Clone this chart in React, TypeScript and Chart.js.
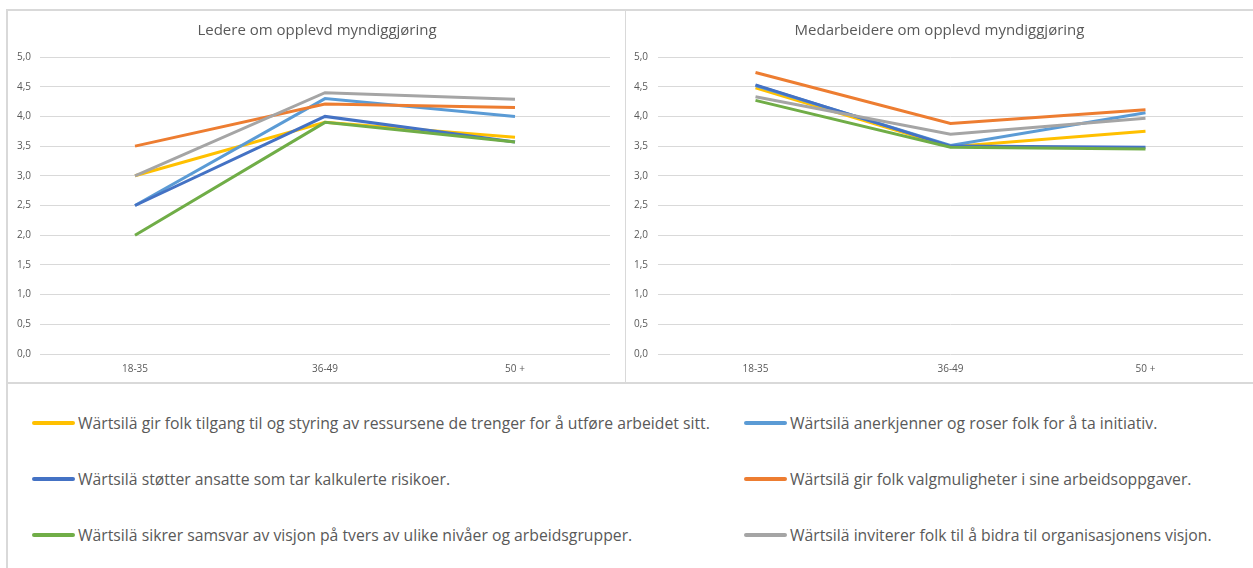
import React, { useEffect, useRef } from "react";
import { Chart, registerables } from "chart.js";

Chart.register(...registerables);

const categories = ["18-35", "36-49", "50 +"];

const seriesNames = [
  "Wärtsilä gir folk tilgang til og styring av ressursene de trenger for å utføre arbeidet sitt.",
  "Wärtsilä anerkjenner og roser folk for å ta initiativ.",
  "Wärtsilä støtter ansatte som tar kalkulerte risikoer.",
  "Wärtsilä gir folk valgmuligheter i sine arbeidsoppgaver.",
  "Wärtsilä sikrer samsvar av visjon på tvers av ulike nivåer og arbeidsgrupper.",
  "Wärtsilä inviterer folk til å bidra til organisasjonens visjon.",
];

const seriesColors = ["#FFC000", "#5B9BD5", "#4472C4", "#ED7D31", "#70AD47", "#A5A5A5"];

// Ledere
const lederTilgang = [3.0, 3.9, 3.65];
const lederAnerkjenner = [2.5, 4.3, 4.0];
const lederStotter = [2.5, 4.0, 3.57];
const lederValg = [3.5, 4.21, 4.15];
const lederSamsvar = [2.0, 3.9, 3.57];
const lederInviterer = [3.0, 4.4, 4.29];

// Medarbeidere
const medTilgang = [4.48, 3.49, 3.75];
const medAnerkjenner = [4.52, 3.51, 4.06];
const medStotter = [4.53, 3.5, 3.48];
const medValg = [4.74, 3.88, 4.11];
const medSamsvar = [4.27, 3.48, 3.45];
const medInviterer = [4.33, 3.7, 3.97];

const yTicks = [0, 0.5, 1, 1.5, 2, 2.5, 3, 3.5, 4, 4.5, 5];

const leftTitle = "Ledere om opplevd myndiggjøring";
const rightTitle = "Medarbeidere om opplevd myndiggjøring";

const FONT = "'Open Sans', sans-serif";
const TEXT = "#595959";

const centeredTitle = {
  id: "centeredTitle",
  afterDraw(chart: any, _args: any, opts: any) {
    const ctx = chart.ctx;
    ctx.save();
    ctx.font = `normal 15px ${FONT}`;
    ctx.fillStyle = TEXT;
    ctx.textAlign = "center";
    ctx.textBaseline = "middle";
    ctx.fillText(opts.text, chart.width / 2, 19);
    ctx.restore();
  },
};

function ChartBox(props: {
  left: number;
  width: number;
  title: string;
  data: number[][];
  yWidth: number;
  tickPad: number;
  padRight: number;
}) {
  const ref = useRef<HTMLCanvasElement>(null);
  useEffect(() => {
    if (!ref.current) return;
    const chart = new Chart(ref.current, {
      type: "line",
      data: {
        labels: categories,
        datasets: props.data.map((d, i) => ({
          label: seriesNames[i],
          data: d,
          borderColor: seriesColors[i],
          backgroundColor: seriesColors[i],
          borderWidth: 3,
          pointRadius: 0,
          fill: false,
          tension: 0,
          order: 10 - i,
        })),
      },
      plugins: [centeredTitle],
      options: {
        animation: false,
        responsive: false,
        maintainAspectRatio: false,
        layout: { padding: { left: 0, right: props.padRight, top: 45, bottom: 0 } },
        plugins: {
          legend: { display: false },
          tooltip: { enabled: false },
          title: { display: false },
          centeredTitle: { text: props.title },
        } as any,
        scales: {
          x: {
            offset: true,
            grid: { display: false, drawTicks: false },
            border: { display: false },
            ticks: {
              color: TEXT,
              font: { family: FONT, size: 10 },
              padding: 9,
              maxRotation: 0,
            },
            afterFit: (s: any) => {
              s.height = 28;
            },
          },
          y: {
            min: 0,
            max: 5,
            afterBuildTicks: (s: any) => {
              s.ticks = yTicks.map((v) => ({ value: v }));
            },
            grid: { color: "#D9D9D9", lineWidth: 1, drawTicks: false },
            border: { display: false },
            ticks: {
              color: TEXT,
              font: { family: FONT, size: 10 },
              padding: props.tickPad,
              callback: (v: any) => Number(v).toFixed(1).replace(".", ","),
            },
            afterFit: (s: any) => {
              s.width = props.yWidth;
            },
          },
        },
      },
    });
    return () => chart.destroy();
  }, []);
  return (
    <canvas
      ref={ref}
      width={props.width}
      height={370}
      style={{ position: "absolute", left: props.left, top: 12, width: props.width, height: 370 }}
    />
  );
}

export default function App() {
  const leftData = [lederTilgang, lederAnerkjenner, lederStotter, lederValg, lederSamsvar, lederInviterer];
  const rightData = [medTilgang, medAnerkjenner, medStotter, medValg, medSamsvar, medInviterer];
  const border = "#D9D9D9";
  const rows = [
    [0, 1],
    [2, 3],
    [4, 5],
  ];
  const rowY = [423, 479, 535];
  const colLine = [32, 744];
  const colText = [78, 790];
  return (
    <div
      style={{
        position: "absolute",
        left: 0,
        top: 0,
        width: 1253,
        height: 568,
        overflow: "hidden",
        background: "#fff",
        fontFamily: FONT,
      }}
    >
      {/* frame */}
      <div style={{ position: "absolute", left: 6, top: 9, width: 1247, height: 2, background: border }} />
      <div style={{ position: "absolute", left: 6, top: 9, width: 2, height: 559, background: border }} />
      <div style={{ position: "absolute", left: 8, top: 382, width: 1245, height: 2, background: border }} />
      <div style={{ position: "absolute", left: 625, top: 11, width: 1, height: 371, background: border }} />

      <ChartBox left={10} width={614} title={leftTitle} data={leftData} yWidth={30} tickPad={9} padRight={14} />
      <ChartBox left={626} width={627} title={rightTitle} data={rightData} yWidth={32} tickPad={10} padRight={10} />

      {rows.map((r, ri) =>
        r.map((si, ci) => (
          <React.Fragment key={si}>
            <div
              style={{
                position: "absolute",
                left: colLine[ci],
                top: rowY[ri] - 2,
                width: colText[ci] - colLine[ci] - 3,
                height: 4,
                borderRadius: 2,
                background: seriesColors[si],
              }}
            />
            <div
              style={{
                position: "absolute",
                left: colText[ci],
                top: rowY[ri] - 12,
                height: 24,
                lineHeight: "24px",
                fontSize: 15.75,
                color: TEXT,
                whiteSpace: "nowrap",
              }}
            >
              {seriesNames[si]}
            </div>
          </React.Fragment>
        ))
      )}
    </div>
  );
}
